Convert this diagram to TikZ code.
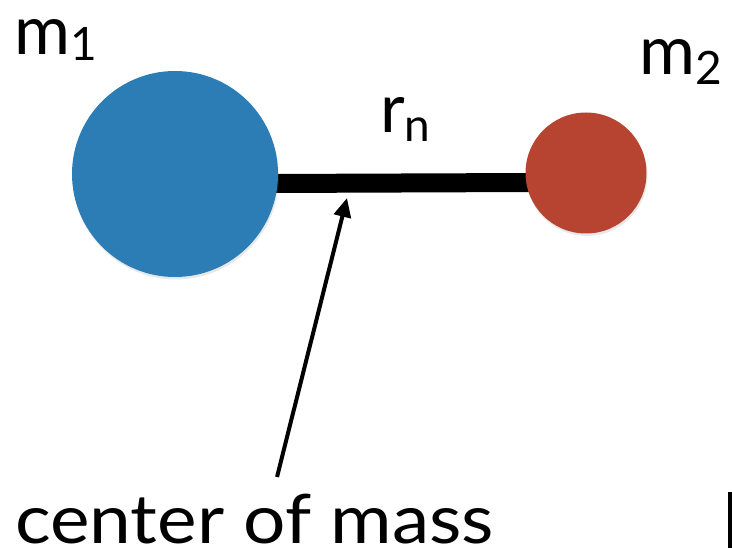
\documentclass[tikz,border=0pt]{standalone}
\usepackage{fontspec}
\setmainfont{Lato}
\newfontfamily\widefont[FakeStretch=1.1]{Lato}
\usetikzlibrary{arrows.meta,backgrounds,shadows}
\definecolor{massblue}{RGB}{44,125,181}
\definecolor{massred}{RGB}{182,68,48}
\tikzset{
  mass/.style={circle, inner sep=0pt, draw=none, drop shadow={opacity=0.18, shadow xshift=1pt, shadow yshift=-2.5pt}},
  lbl/.style={inner sep=0pt, anchor=base west, font=\fontsize{68}{70}\selectfont},
  rod/.style={line width=19pt, black},
  pointer/.style={line width=4pt, -{Triangle[length=19pt,width=17pt]}}
}
\newcommand{\subtxt}[2]{\raisebox{#1}{\fontsize{46}{48}\selectfont #2}}
\begin{document}
\begin{tikzpicture}[x=1pt,y=-1pt]
\useasboundingbox (0,0) rectangle (732,548);
\node[mass, fill=massblue, minimum size=206pt] (m1) at (175,174) {};
\node[mass, fill=massred, minimum size=121pt] (m2) at (586,173) {};
\begin{scope}[on background layer]
\draw[rod] ([shift={(-6pt,-9.5pt)}]m1.east) -- ([shift={(6pt,-9.5pt)}]m2.west);
\end{scope}
\node[lbl] (l1) at (14,55) {m\subtxt{-6pt}{1}};
\node[lbl] (l2) at (639,75) {m\subtxt{-10pt}{2}};
\node[lbl] (lr) at (380,133) {r\subtxt{-9pt}{n}};
\node[lbl, text depth=0pt] (com) at (15,543) {\widefont center of mass};
\coordinate (tail) at (277,477);
\coordinate (tip) at (347,198);
\draw[pointer] (tail) -- (tip);
\fill (728,492) rectangle (732,548);
\end{tikzpicture}
\end{document}
